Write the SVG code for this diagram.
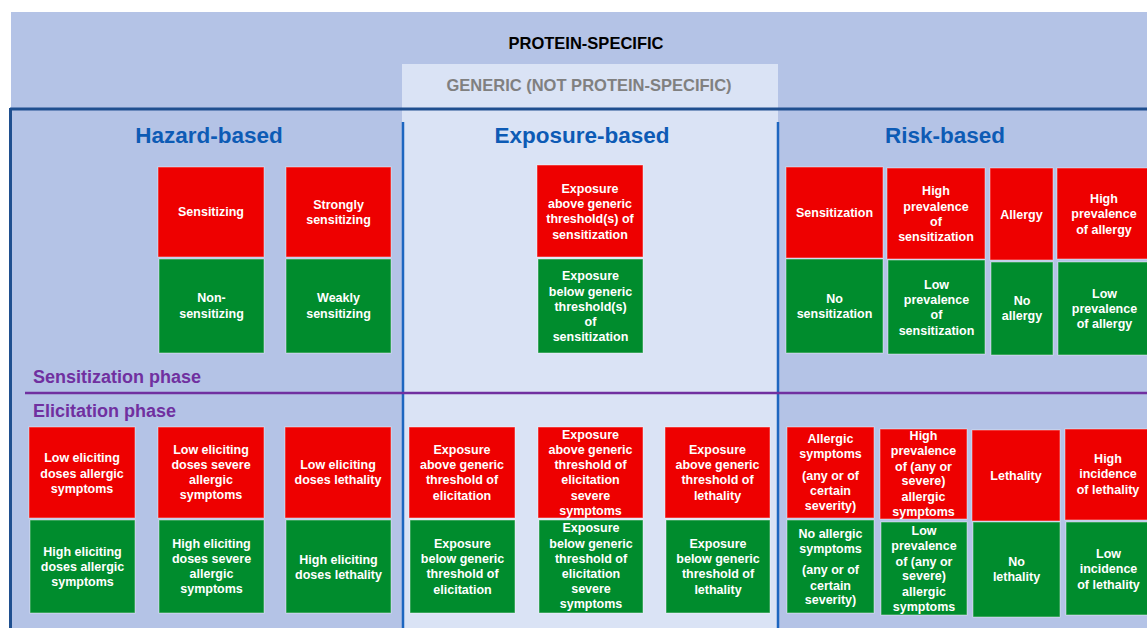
<svg xmlns="http://www.w3.org/2000/svg" width="1147" height="628" viewBox="0 0 1147 628">
<style>
.r{fill:#EE0000;stroke:#ffffff;stroke-opacity:0.45;stroke-width:1}
.g{fill:#008C2D;stroke:#ffffff;stroke-opacity:0.45;stroke-width:1}
.t{font-family:"Liberation Sans",Arial,sans-serif;font-weight:bold;font-size:12.5px;fill:#ffffff;text-anchor:middle}
.h{font-family:"Liberation Sans",Arial,sans-serif;font-weight:bold;font-size:22.5px;fill:#0D5BB5;text-anchor:middle}
.p{font-family:"Liberation Sans",Arial,sans-serif;font-weight:bold;font-size:18px;fill:#7030A0}
</style>
<rect x="0" y="0" width="1147" height="628" fill="#ffffff"/>
<rect x="11" y="12" width="1136" height="616" fill="#B4C3E6"/>
<rect x="402" y="64" width="376" height="564" fill="#DAE3F5"/>
<text x="586" y="49" font-family="'Liberation Sans',Arial,sans-serif" font-weight="bold" font-size="16.5" fill="#000000" text-anchor="middle">PROTEIN-SPECIFIC</text>
<text x="589" y="91" font-family="'Liberation Sans',Arial,sans-serif" font-weight="bold" font-size="16.5" fill="#808080" text-anchor="middle">GENERIC (NOT PROTEIN-SPECIFIC)</text>
<line x1="10" y1="109" x2="1147" y2="109" stroke="#1F4F8F" stroke-width="3"/>
<line x1="10.5" y1="108" x2="10.5" y2="628" stroke="#1F4F8F" stroke-width="3"/>
<line x1="403" y1="122" x2="403" y2="628" stroke="#1D66C0" stroke-width="2.5"/>
<line x1="778" y1="122" x2="778" y2="628" stroke="#1D66C0" stroke-width="2.5"/>
<line x1="25" y1="393" x2="1147" y2="393" stroke="#7030A0" stroke-width="2.5"/>
<text class="h" x="209" y="143">Hazard-based</text>
<text class="h" x="582" y="143">Exposure-based</text>
<text class="h" x="945" y="143">Risk-based</text>
<text class="p" x="33" y="383">Sensitization phase</text>
<text class="p" x="33" y="417">Elicitation phase</text>
<g id="connectors"/>
<g id="haz-sensitizing"><rect class="r" x="158" y="167" width="106" height="90"/><text class="t" x="211" y="216">Sensitizing</text></g>
<g id="haz-non-sensitizing"><rect class="g" x="159" y="259" width="105" height="94"/><text class="t" x="211.5" y="302">Non-</text><text class="t" x="211.5" y="318">sensitizing</text></g>
<g id="haz-strongly"><rect class="r" x="286" y="167" width="105" height="90"/><text class="t" x="338.5" y="208.5">Strongly</text><text class="t" x="338.5" y="224">sensitizing</text></g>
<g id="haz-weakly"><rect class="g" x="286" y="259" width="105" height="94"/><text class="t" x="338.5" y="302">Weakly</text><text class="t" x="338.5" y="318">sensitizing</text></g>
<g id="exp-above-sens"><rect class="r" x="537" y="165" width="106" height="92"/><text class="t" x="590" y="192.5">Exposure</text><text class="t" x="590" y="207.5">above generic</text><text class="t" x="590" y="223">threshold(s) of</text><text class="t" x="590" y="238.5">sensitization</text></g>
<g id="exp-below-sens"><rect class="g" x="538" y="259" width="105" height="94"/><text class="t" x="590.5" y="280">Exposure</text><text class="t" x="590.5" y="295.5">below generic</text><text class="t" x="590.5" y="310.5">threshold(s)</text><text class="t" x="590.5" y="325.5">of</text><text class="t" x="590.5" y="341">sensitization</text></g>
<g id="risk-sensitization"><rect class="r" x="786" y="167" width="97" height="91"/><text class="t" x="834.5" y="216.5">Sensitization</text></g>
<g id="risk-no-sensitization"><rect class="g" x="786" y="259" width="97" height="94"/><text class="t" x="834.5" y="302.5">No</text><text class="t" x="834.5" y="318">sensitization</text></g>
<g id="risk-high-prev-sens"><rect class="r" x="887" y="168" width="98" height="91"/><text class="t" x="936" y="195">High</text><text class="t" x="936" y="210.5">prevalence</text><text class="t" x="936" y="225.5">of</text><text class="t" x="936" y="240.5">sensitization</text></g>
<g id="risk-low-prev-sens"><rect class="g" x="888" y="260" width="97" height="94"/><text class="t" x="936.5" y="288.5">Low</text><text class="t" x="936.5" y="304">prevalence</text><text class="t" x="936.5" y="319">of</text><text class="t" x="936.5" y="334.5">sensitization</text></g>
<g id="risk-allergy"><rect class="r" x="990" y="168" width="63" height="92"/><text class="t" x="1021.5" y="218.5">Allergy</text></g>
<g id="risk-no-allergy"><rect class="g" x="991" y="262" width="62" height="93"/><text class="t" x="1022" y="304.5">No</text><text class="t" x="1022" y="320">allergy</text></g>
<g id="risk-high-prev-allergy"><rect class="r" x="1057" y="168" width="94" height="91"/><text class="t" x="1104" y="202.5">High</text><text class="t" x="1104" y="218">prevalence</text><text class="t" x="1104" y="233.5">of allergy</text></g>
<g id="risk-low-prev-allergy"><rect class="g" x="1058" y="262" width="93" height="93"/><text class="t" x="1104.5" y="297.5">Low</text><text class="t" x="1104.5" y="312.5">prevalence</text><text class="t" x="1104.5" y="328">of allergy</text></g>
<g id="haz-low-ed-allergic"><rect class="r" x="29" y="427" width="106" height="91"/><text class="t" x="82" y="462">Low eliciting</text><text class="t" x="82" y="477.5">doses allergic</text><text class="t" x="82" y="492.5">symptoms</text></g>
<g id="haz-high-ed-allergic"><rect class="g" x="30" y="520" width="105" height="93"/><text class="t" x="82.5" y="555.5">High eliciting</text><text class="t" x="82.5" y="570.5">doses allergic</text><text class="t" x="82.5" y="586">symptoms</text></g>
<g id="haz-low-ed-severe"><rect class="r" x="158" y="427" width="106" height="91"/><text class="t" x="211" y="453.5">Low eliciting</text><text class="t" x="211" y="468.5">doses severe</text><text class="t" x="211" y="484">allergic</text><text class="t" x="211" y="499">symptoms</text></g>
<g id="haz-high-ed-severe"><rect class="g" x="159" y="520" width="105" height="93"/><text class="t" x="211.5" y="547.5">High eliciting</text><text class="t" x="211.5" y="562.5">doses severe</text><text class="t" x="211.5" y="578">allergic</text><text class="t" x="211.5" y="593">symptoms</text></g>
<g id="haz-low-ed-lethality"><rect class="r" x="285" y="427" width="106" height="91"/><text class="t" x="338" y="469">Low eliciting</text><text class="t" x="338" y="484">doses lethality</text></g>
<g id="haz-high-ed-lethality"><rect class="g" x="286" y="520" width="105" height="93"/><text class="t" x="338.5" y="563.5">High eliciting</text><text class="t" x="338.5" y="578.5">doses lethality</text></g>
<g id="exp-above-elic"><rect class="r" x="409" y="427" width="106" height="91"/><text class="t" x="462" y="453.5">Exposure</text><text class="t" x="462" y="469">above generic</text><text class="t" x="462" y="484">threshold of</text><text class="t" x="462" y="499.5">elicitation</text></g>
<g id="exp-below-elic"><rect class="g" x="410" y="520" width="105" height="93"/><text class="t" x="462.5" y="547.5">Exposure</text><text class="t" x="462.5" y="563">below generic</text><text class="t" x="462.5" y="578">threshold of</text><text class="t" x="462.5" y="593.5">elicitation</text></g>
<g id="exp-above-elic-severe"><rect class="r" x="538" y="427" width="105" height="91"/><text class="t" x="590.5" y="438.5">Exposure</text><text class="t" x="590.5" y="454">above generic</text><text class="t" x="590.5" y="469">threshold of</text><text class="t" x="590.5" y="484">elicitation</text><text class="t" x="590.5" y="499.5">severe</text><text class="t" x="590.5" y="514.5">symptoms</text></g>
<g id="exp-below-elic-severe"><rect class="g" x="539" y="520" width="104" height="93"/><text class="t" x="591" y="532">Exposure</text><text class="t" x="591" y="547.5">below generic</text><text class="t" x="591" y="562.5">threshold of</text><text class="t" x="591" y="577.5">elicitation</text><text class="t" x="591" y="593">severe</text><text class="t" x="591" y="608">symptoms</text></g>
<g id="exp-above-leth"><rect class="r" x="665" y="427" width="105" height="91"/><text class="t" x="717.5" y="453.5">Exposure</text><text class="t" x="717.5" y="469">above generic</text><text class="t" x="717.5" y="484">threshold of</text><text class="t" x="717.5" y="499.5">lethality</text></g>
<g id="exp-below-leth"><rect class="g" x="666" y="520" width="104" height="93"/><text class="t" x="718" y="547.5">Exposure</text><text class="t" x="718" y="563">below generic</text><text class="t" x="718" y="578">threshold of</text><text class="t" x="718" y="593.5">lethality</text></g>
<g id="risk-allergic-symptoms"><rect class="r" x="787" y="427" width="87" height="91"/><text class="t" x="830.5" y="442.5">Allergic</text><text class="t" x="830.5" y="458">symptoms</text><text class="t" x="830.5" y="480">(any or of</text><text class="t" x="830.5" y="494.5">certain</text><text class="t" x="830.5" y="509.5">severity)</text></g>
<g id="risk-no-allergic-symptoms"><rect class="g" x="787" y="520" width="87" height="93"/><text class="t" x="830.5" y="537.5">No allergic</text><text class="t" x="830.5" y="552.5">symptoms</text><text class="t" x="830.5" y="574">(any or of</text><text class="t" x="830.5" y="589.5">certain</text><text class="t" x="830.5" y="603.5">severity)</text></g>
<g id="risk-high-prev-symptoms"><rect class="r" x="880" y="429" width="87" height="90"/><text class="t" x="923.5" y="439.5">High</text><text class="t" x="923.5" y="455">prevalence</text><text class="t" x="923.5" y="470.5">of (any or</text><text class="t" x="923.5" y="484.5">severe)</text><text class="t" x="923.5" y="500.5">allergic</text><text class="t" x="923.5" y="515.5">symptoms</text></g>
<g id="risk-low-prev-symptoms"><rect class="g" x="881" y="522" width="86" height="93"/><text class="t" x="924" y="534.5">Low</text><text class="t" x="924" y="550">prevalence</text><text class="t" x="924" y="565.5">of (any or</text><text class="t" x="924" y="579.5">severe)</text><text class="t" x="924" y="595.5">allergic</text><text class="t" x="924" y="610.5">symptoms</text></g>
<g id="risk-lethality"><rect class="r" x="972" y="430" width="88" height="91"/><text class="t" x="1016" y="479.5">Lethality</text></g>
<g id="risk-no-lethality"><rect class="g" x="973" y="522" width="87" height="95"/><text class="t" x="1016.5" y="565.5">No</text><text class="t" x="1016.5" y="580.5">lethality</text></g>
<g id="risk-high-incidence"><rect class="r" x="1065" y="429" width="86" height="91"/><text class="t" x="1108" y="462.5">High</text><text class="t" x="1108" y="477.5">incidence</text><text class="t" x="1108" y="493.5">of lethality</text></g>
<g id="risk-low-incidence"><rect class="g" x="1066" y="522" width="85" height="93"/><text class="t" x="1108.5" y="557.5">Low</text><text class="t" x="1108.5" y="572.5">incidence</text><text class="t" x="1108.5" y="588.5">of lethality</text></g>
</svg>
